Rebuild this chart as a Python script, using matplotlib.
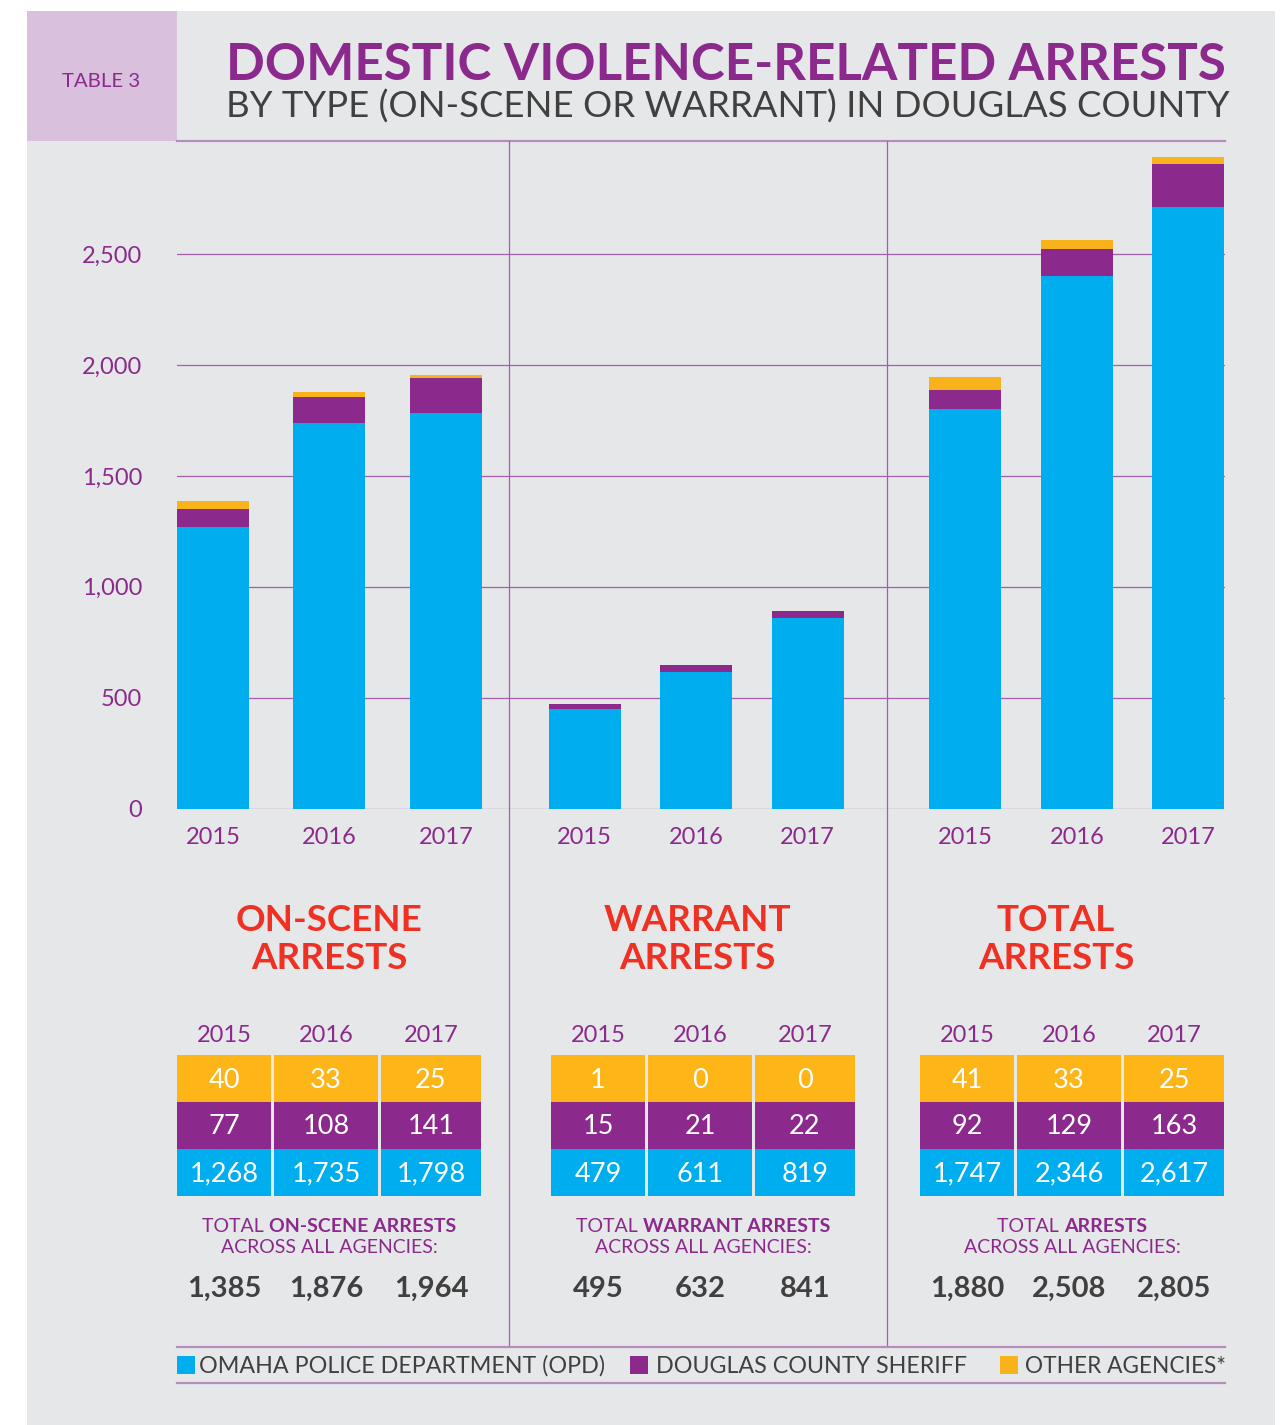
import matplotlib.pyplot as plt
from matplotlib.patches import Rectangle

plt.rcParams['font.family'] = ['Lato', 'DejaVu Sans']

years = ['2015', '2016', '2017']
panel_titles = [('ON-SCENE', 'ARRESTS'), ('WARRANT', 'ARRESTS'), ('TOTAL', 'ARRESTS')]
panel_bold = ['ON-SCENE ARRESTS', 'WARRANT ARRESTS', 'ARRESTS']

# values printed in the small tables
onscene_opd = [1268, 1735, 1798]
onscene_sheriff = [77, 108, 141]
onscene_other = [40, 33, 25]
warrant_opd = [479, 611, 819]
warrant_sheriff = [15, 21, 22]
warrant_other = [1, 0, 0]
total_opd = [1747, 2346, 2617]
total_sheriff = [92, 129, 163]
total_other = [41, 33, 25]
onscene_total = [1385, 1876, 1964]
warrant_total = [495, 632, 841]
all_total = [1880, 2508, 2805]

# bar heights as drawn in the graphic (on-scene, warrant, total)
bar_opd = [1269, 1738, 1782, 449, 616, 860, 1800, 2400, 2712]
bar_sheriff = [81, 117, 159, 23, 32, 31, 86, 123, 193]
bar_other = [36, 24, 14, 0, 0, 0, 60, 40, 32]

yticks = [0, 500, 1000, 1500, 2000, 2500]
legend_labels = ['OMAHA POLICE DEPARTMENT (OPD)', 'DOUGLAS COUNTY SHERIFF', 'OTHER AGENCIES*']

BLUE = '#00adee'
PURPLE = '#8b2a8c'
ORANGE = '#f8b21c'
ORANGE_T = '#fdb517'
RED = '#ef3124'
BG = '#e6e7e9'
PINK = '#d9c1de'
GRID = '#a35fab'
LINE = '#b98cc0'
DARK = '#404040'

W, H = 1281, 1425
fig = plt.figure(figsize=(W / 100, H / 100), dpi=100)
fig.patch.set_facecolor('white')

# full-figure overlay in pixel units for the layout pieces
bg = fig.add_axes([0, 0, 1, 1])
bg.set_xlim(0, W)
bg.set_ylim(H, 0)
bg.axis('off')
r = fig.canvas.get_renderer()

bg.add_patch(Rectangle((27, 11), 1248, H - 11, color=BG, lw=0))
bg.add_patch(Rectangle((27, 11), 150, 130, color=PINK, lw=0))
bg.plot([177, 1225], [141, 141], color=LINE, lw=1.6)
for xs in [509, 887]:
    bg.plot([xs, xs], [141, 1347], color=GRID, lw=0.9)


def fit_text(x, y, s, width, **kw):
    t = bg.text(x, y, s, fontsize=20, **kw)
    w = t.get_window_extent(r).width
    t.set_fontsize(20 * width / w)
    return t


def mixed_line(x, y, parts, size, color):
    texts = [bg.text(0, y, s, fontsize=size, fontweight=wt, color=color, va='baseline')
             for s, wt in parts]
    widths = [t.get_window_extent(r).width for t in texts]
    left = x - sum(widths) / 2
    for t, w in zip(texts, widths):
        t.set_x(left)
        left += w


# header
fit_text(62, 87, 'TABLE 3', 78, color=PURPLE, va='baseline')
fit_text(226, 80, 'DOMESTIC VIOLENCE-RELATED ARRESTS', 1000, color=PURPLE,
         fontweight='bold', va='baseline')
fit_text(226, 118, 'BY TYPE (ON-SCENE OR WARRANT) IN DOUGLAS COUNTY', 1000,
         color=DARK, va='baseline')

# bar chart
ax = fig.add_axes([177 / W, (H - 808.7) / H, 1048 / W, 667.7 / H])
ax.set_facecolor('none')
group_start = [0.32, 3.64, 7.04]
group_step = [1.04, 0.995, 0.995]
xpos = [g + i * s for g, s in zip(group_start, group_step) for i in range(3)]
width = 0.643
ax.bar(xpos, bar_opd, width, color=BLUE, zorder=3)
ax.bar(xpos, bar_sheriff, width, bottom=bar_opd, color=PURPLE, zorder=3)
ax.bar(xpos, bar_other, width, bottom=[a + b for a, b in zip(bar_opd, bar_sheriff)],
       color=ORANGE, zorder=3)
ax.set_xlim(0, 1048 / 112)
ax.set_ylim(0, 3009)
ax.set_yticks(yticks, [f'{v:,}' for v in yticks])
ax.set_xticks(xpos, years * 3)
ax.grid(axis='y', color=GRID, lw=0.9, zorder=0)
for sp in ax.spines.values():
    sp.set_visible(False)
ax.tick_params(axis='both', length=0, colors=PURPLE, labelsize=17)
ax.tick_params(axis='y', pad=25)
ax.tick_params(axis='x', pad=13)

# tables under each panel
table_left = [177, 551, 920]
col_off = [0, 97, 204]
col_w = [94, 104, 100]
row_top = 1055
row_h = 47
title_x = [329, 697, 1056]
caption_x = [329, 703, 1072]
rows = [
    [onscene_other, onscene_sheriff, onscene_opd],
    [warrant_other, warrant_sheriff, warrant_opd],
    [total_other, total_sheriff, total_opd],
]
totals = [onscene_total, warrant_total, all_total]
row_colors = [ORANGE_T, PURPLE, BLUE]

for p in range(3):
    t1, t2 = panel_titles[p]
    bg.text(title_x[p], 931, t1, fontsize=26.5, fontweight='bold', color=RED,
            ha='center', va='baseline')
    bg.text(title_x[p], 969, t2, fontsize=26.5, fontweight='bold', color=RED,
            ha='center', va='baseline')
    for j in range(3):
        x0 = table_left[p] + col_off[j]
        cx = x0 + col_w[j] / 2
        bg.text(cx, 1042, years[j], fontsize=17, color=PURPLE, ha='center', va='baseline')
        for k in range(3):
            y0 = row_top + k * row_h
            bg.add_patch(Rectangle((x0, y0), col_w[j], row_h, color=row_colors[k], lw=0))
            bg.text(cx, y0 + row_h / 2 + 9, f'{rows[p][k][j]:,}', fontsize=19.5,
                    color='white', ha='center', va='baseline')
        bg.text(cx, 1297, f'{totals[p][j]:,}', fontsize=21, fontweight='bold',
                color=DARK, ha='center', va='baseline')
    mixed_line(caption_x[p], 1232, [('TOTAL ', 'normal'), (panel_bold[p], 'bold')], 14, PURPLE)
    mixed_line(caption_x[p], 1253, [('ACROSS ALL AGENCIES:', 'normal')], 14, PURPLE)

# legend strip
bg.plot([177, 1225], [1347, 1347], color=LINE, lw=1.6)
bg.plot([177, 1225], [1383, 1383], color=LINE, lw=1.6)
legend_sq = [177, 630, 1000]
legend_txt = [199, 656, 1025]
legend_w = [405, 311, 200]
for c, sx, tx, tw, lab in zip([BLUE, PURPLE, ORANGE], legend_sq, legend_txt, legend_w, legend_labels):
    bg.add_patch(Rectangle((sx, 1356), 18, 18, color=c, lw=0))
    fit_text(tx, 1373, lab, tw, color=DARK, va='baseline')

fig.savefig('out.png', dpi=100, facecolor='white')
